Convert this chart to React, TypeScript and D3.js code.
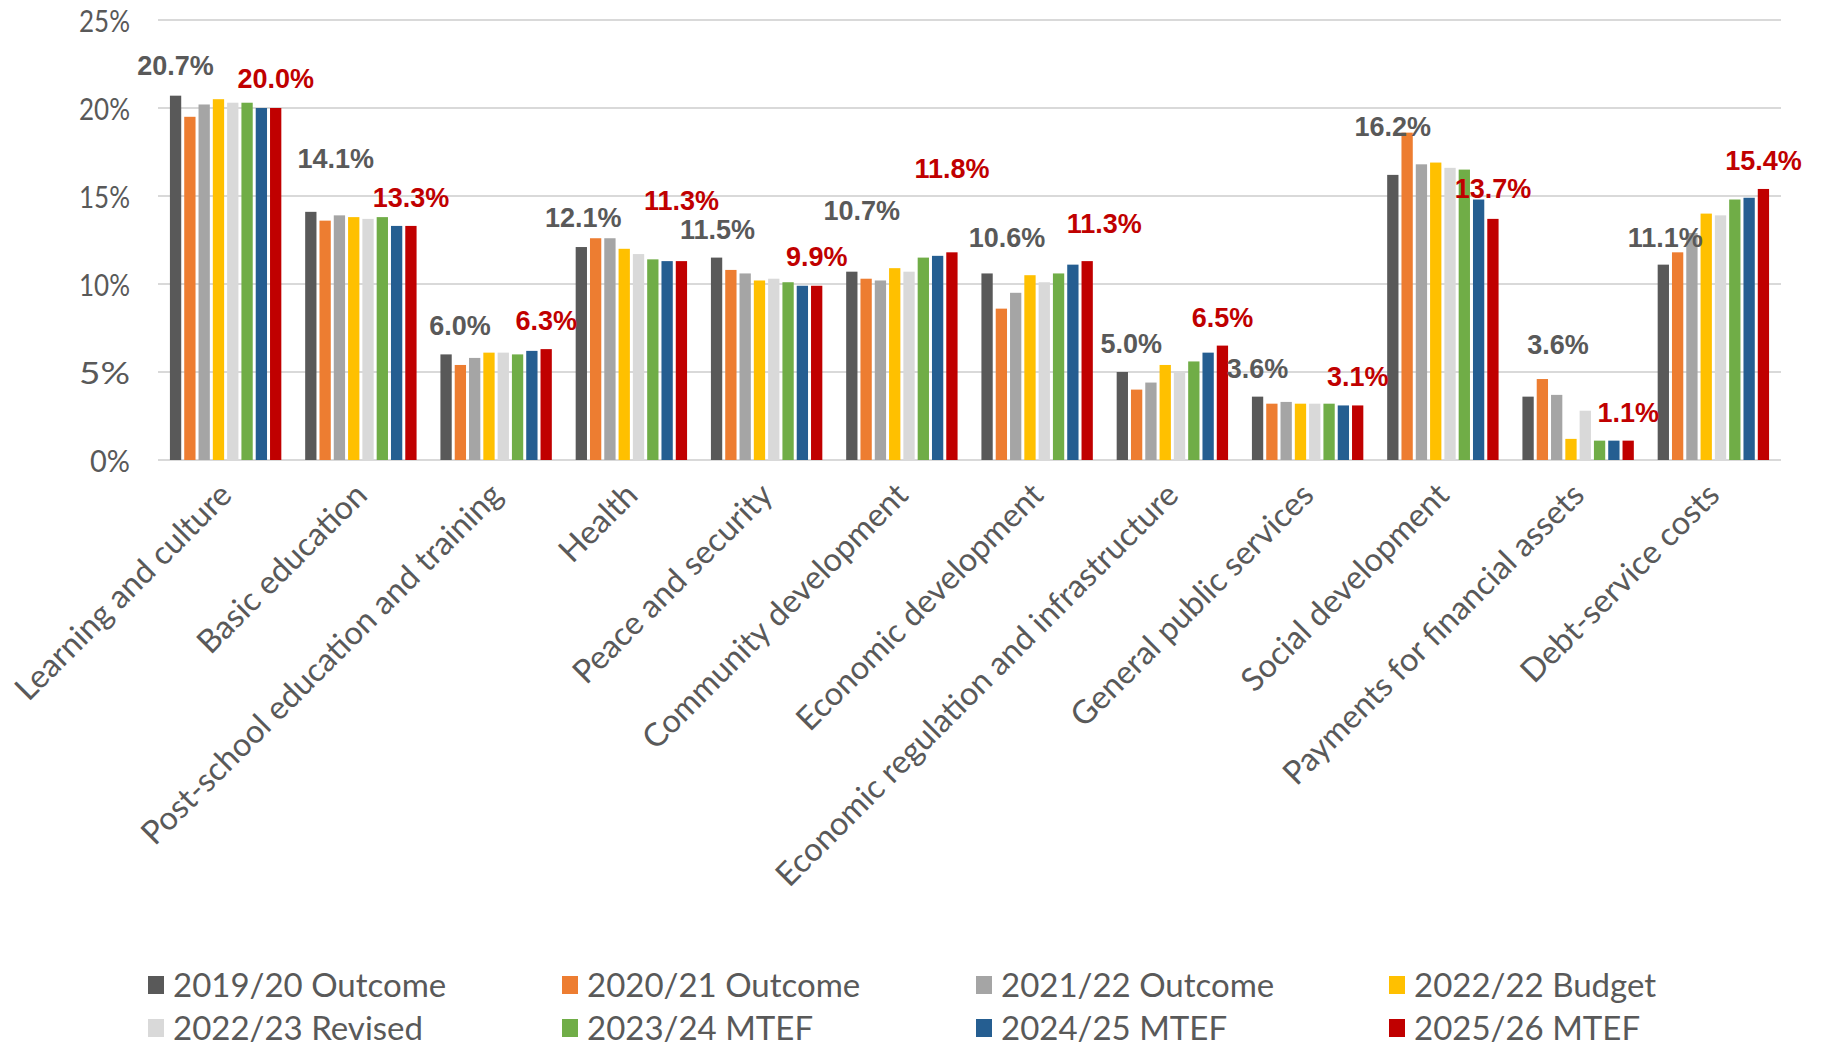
import React from "react";
import * as d3 from "d3";

const categories = [
  "Learning and culture",
  "Basic education",
  "Post-school education and training",
  "Health",
  "Peace and security",
  "Community development",
  "Economic development",
  "Economic regulation and infrastructure",
  "General public services",
  "Social development",
  "Payments for financial assets",
  "Debt-service costs",
];

const seriesNames = [
  "2019/20 Outcome",
  "2020/21 Outcome",
  "2021/22 Outcome",
  "2022/22 Budget",
  "2022/23 Revised",
  "2023/24 MTEF",
  "2024/25 MTEF",
  "2025/26 MTEF",
];

const outcome2019 = [20.7, 14.1, 6.0, 12.1, 11.5, 10.7, 10.6, 5.0, 3.6, 16.2, 3.6, 11.1];
const outcome2020 = [19.5, 13.6, 5.4, 12.6, 10.8, 10.3, 8.6, 4.0, 3.2, 18.6, 4.6, 11.8];
const outcome2021 = [20.2, 13.9, 5.8, 12.6, 10.6, 10.2, 9.5, 4.4, 3.3, 16.8, 3.7, 12.9];
const budget2022 = [20.5, 13.8, 6.1, 12.0, 10.2, 10.9, 10.5, 5.4, 3.2, 16.9, 1.2, 14.0];
const revised2022 = [20.3, 13.7, 6.1, 11.7, 10.3, 10.7, 10.1, 5.0, 3.2, 16.6, 2.8, 13.9];
const mtef2023 = [20.3, 13.8, 6.0, 11.4, 10.1, 11.5, 10.6, 5.6, 3.2, 16.5, 1.1, 14.8];
const mtef2024 = [20.0, 13.3, 6.2, 11.3, 9.9, 11.6, 11.1, 6.1, 3.1, 14.8, 1.1, 14.9];
const mtef2025 = [20.0, 13.3, 6.3, 11.3, 9.9, 11.8, 11.3, 6.5, 3.1, 13.7, 1.1, 15.4];

const yTicks = [0, 5, 10, 15, 20, 25];

const seriesColors = ["#595959", "#ED7D31", "#A5A5A5", "#FFC000", "#D9D9D9", "#70AD47", "#255E91", "#C00000"];

// hand-placed label nudges (layout only, px)
const firstLabelNudge: [number, number][] = [
  [0, -2], [25, -25], [14, 0], [2, -1], [1, 0], [10, -33],
  [20, -7], [9, 0], [0, 0], [0, -20], [30, -24], [2, 1],
];
const lastLabelNudge: [number, number][] = [
  [0, -1], [0, 0], [0, 0], [0, -32], [0, -1], [0, -55],
  [17, -9], [0, 0], [0, 0], [0, -2], [0, 0], [0, 0],
];

const W = 1821;
const H = 1051;
const M = { left: 158, right: 1781, top: 20, bottom: 460 };

export default function App() {
  const allSeries = [outcome2019, outcome2020, outcome2021, budget2022, revised2022, mtef2023, mtef2024, mtef2025];

  const x0 = d3.scaleBand<string>().domain(categories).range([M.left, M.right]).padding(0);
  const bw = x0.bandwidth();
  const groupW = 111.4;
  const gap = (bw - groupW) / 2;
  const x1 = d3
    .scaleBand<string>()
    .domain(seriesNames)
    .range([gap, gap + groupW])
    .paddingInner(0.21)
    .paddingOuter(0);
  const y = d3.scaleLinear().domain([0, 25]).range([M.bottom, M.top]);

  const textFont = "Lato, 'Liberation Sans', Arial, sans-serif";
  const labelFont = "'Liberation Sans', Arial, sans-serif";

  const legendCols = [148, 562, 976, 1389];
  const legendRows = [984, 1027];

  return (
    <svg
      width={W}
      height={H}
      style={{ position: "absolute", left: 0, top: 0, background: "#fff" }}
    >
      <rect x={0} y={0} width={W} height={H} fill="#fff" />
      {/* gridlines */}
      {yTicks.map((t) => (
        <g key={"g" + t}>
          <line x1={M.left} x2={M.right} y1={y(t)} y2={y(t)} stroke="#D9D9D9" strokeWidth={2} />
          <text
            x={130}
            y={y(t)}
            textAnchor="end"
            dominantBaseline="central"
            fontFamily={textFont}
            fontSize={30}
            fill="#595959"
            textLength={t === 0 ? 40 : 51}
            lengthAdjust="spacingAndGlyphs"
          >
            {t + "%"}
          </text>
        </g>
      ))}
      {/* bars */}
      {categories.map((c, ci) => (
        <g key={c} transform={`translate(${x0(c)},0)`}>
          {allSeries.map((s, si) => (
            <rect
              key={si}
              x={x1(seriesNames[si])}
              y={y(s[ci])}
              width={x1.bandwidth()}
              height={y(0) - y(s[ci])}
              fill={seriesColors[si]}
            />
          ))}
        </g>
      ))}
      {/* category labels */}
      {categories.map((c) => {
        const cx = (x0(c) as number) + bw / 2 - 8;
        return (
          <text
            key={"l" + c}
            transform={`translate(${cx},${481}) rotate(-45)`}
            textAnchor="end"
            dy="0.7em"
            fontFamily={textFont}
            fontSize={32.5}
            fill="#595959"
          >
            {c}
          </text>
        );
      })}
      {/* data labels */}
      {categories.map((c, ci) => {
        const first = outcome2019[ci];
        const last = mtef2025[ci];
        const fx = (x0(c) as number) + (x1(seriesNames[0]) as number) + x1.bandwidth() / 2;
        const lx = (x0(c) as number) + (x1(seriesNames[7]) as number) + x1.bandwidth() / 2;
        return (
          <g key={"d" + c}>
            <text
              x={fx + firstLabelNudge[ci][0]}
              y={y(first) - 28 + firstLabelNudge[ci][1]}
              textAnchor="middle"
              dominantBaseline="central"
              fontFamily={labelFont}
              fontWeight="bold"
              fontSize={27}
              fill="#595959"
            >
              {first.toFixed(1) + "%"}
            </text>
            <text
              x={lx + lastLabelNudge[ci][0]}
              y={y(last) - 28 + lastLabelNudge[ci][1]}
              textAnchor="middle"
              dominantBaseline="central"
              fontFamily={labelFont}
              fontWeight="bold"
              fontSize={27}
              fill="#C00000"
            >
              {last.toFixed(1) + "%"}
            </text>
          </g>
        );
      })}
      {/* legend */}
      {seriesNames.map((n, i) => {
        const lx = legendCols[i % 4];
        const ly = legendRows[Math.floor(i / 4)];
        return (
          <g key={"leg" + n}>
            <rect x={lx} y={ly - 8} width={16} height={18} fill={seriesColors[i]} />
            <text
              x={lx + 25}
              y={ly}
              dominantBaseline="central"
              fontFamily={textFont}
              fontSize={33}
              fill="#595959"
            >
              {n}
            </text>
          </g>
        );
      })}
    </svg>
  );
}
